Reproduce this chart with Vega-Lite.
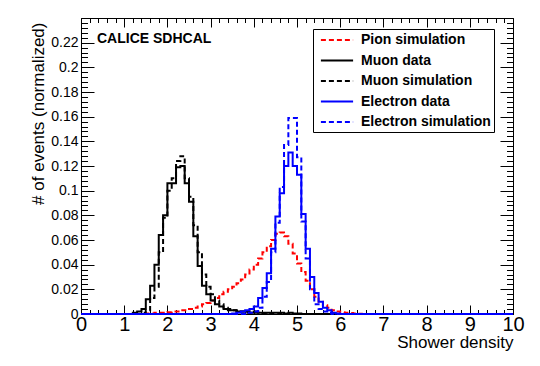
{
  "$schema": "https://vega.github.io/schema/vega-lite/v6.json",
  "width": 432,
  "height": 296,
  "autosize": "none",
  "padding": {"left": 81, "top": 18, "right": 27, "bottom": 52},
  "background": "white",
  "config": {
    "view": {"stroke": "black", "strokeWidth": 1},
    "font": "Liberation Sans",
    "axis": {"domain": false, "grid": false, "tickColor": "black", "tickWidth": 1, "labelColor": "black", "titleColor": "black", "labelFont": "Liberation Sans", "titleFont": "Liberation Sans", "titleFontWeight": "normal", "labelFlush": false},
    "legend": {"strokeColor": "#000", "fillColor": "#fff", "padding": 3, "strokeWidth": 1}
  },
  "datasets": {
    "h": [
      {"s": "Pion simulation", "x": 0, "y": 0},
      {"s": "Pion simulation", "x": 1.5, "y": 0.0005},
      {"s": "Pion simulation", "x": 1.6, "y": 0.0005},
      {"s": "Pion simulation", "x": 1.7, "y": 0.001},
      {"s": "Pion simulation", "x": 1.8, "y": 0.001},
      {"s": "Pion simulation", "x": 1.9, "y": 0.001},
      {"s": "Pion simulation", "x": 2.0, "y": 0.0015},
      {"s": "Pion simulation", "x": 2.1, "y": 0.002},
      {"s": "Pion simulation", "x": 2.2, "y": 0.002},
      {"s": "Pion simulation", "x": 2.3, "y": 0.003},
      {"s": "Pion simulation", "x": 2.4, "y": 0.003},
      {"s": "Pion simulation", "x": 2.5, "y": 0.004},
      {"s": "Pion simulation", "x": 2.6, "y": 0.005},
      {"s": "Pion simulation", "x": 2.7, "y": 0.006},
      {"s": "Pion simulation", "x": 2.8, "y": 0.008},
      {"s": "Pion simulation", "x": 2.9, "y": 0.009},
      {"s": "Pion simulation", "x": 3.0, "y": 0.011},
      {"s": "Pion simulation", "x": 3.1, "y": 0.013},
      {"s": "Pion simulation", "x": 3.2, "y": 0.016},
      {"s": "Pion simulation", "x": 3.3, "y": 0.018},
      {"s": "Pion simulation", "x": 3.4, "y": 0.02},
      {"s": "Pion simulation", "x": 3.5, "y": 0.022},
      {"s": "Pion simulation", "x": 3.6, "y": 0.025},
      {"s": "Pion simulation", "x": 3.7, "y": 0.028},
      {"s": "Pion simulation", "x": 3.8, "y": 0.032},
      {"s": "Pion simulation", "x": 3.9, "y": 0.036},
      {"s": "Pion simulation", "x": 4.0, "y": 0.04},
      {"s": "Pion simulation", "x": 4.1, "y": 0.045},
      {"s": "Pion simulation", "x": 4.2, "y": 0.05},
      {"s": "Pion simulation", "x": 4.3, "y": 0.055},
      {"s": "Pion simulation", "x": 4.4, "y": 0.06},
      {"s": "Pion simulation", "x": 4.5, "y": 0.065},
      {"s": "Pion simulation", "x": 4.6, "y": 0.066},
      {"s": "Pion simulation", "x": 4.7, "y": 0.063},
      {"s": "Pion simulation", "x": 4.8, "y": 0.057},
      {"s": "Pion simulation", "x": 4.9, "y": 0.049},
      {"s": "Pion simulation", "x": 5.0, "y": 0.041},
      {"s": "Pion simulation", "x": 5.1, "y": 0.034},
      {"s": "Pion simulation", "x": 5.2, "y": 0.027},
      {"s": "Pion simulation", "x": 5.3, "y": 0.02},
      {"s": "Pion simulation", "x": 5.4, "y": 0.014},
      {"s": "Pion simulation", "x": 5.5, "y": 0.01},
      {"s": "Pion simulation", "x": 5.6, "y": 0.007},
      {"s": "Pion simulation", "x": 5.7, "y": 0.005},
      {"s": "Pion simulation", "x": 5.8, "y": 0.003},
      {"s": "Pion simulation", "x": 5.9, "y": 0.002},
      {"s": "Pion simulation", "x": 6.0, "y": 0.0015},
      {"s": "Pion simulation", "x": 6.1, "y": 0.001},
      {"s": "Pion simulation", "x": 6.2, "y": 0.0008},
      {"s": "Pion simulation", "x": 6.3, "y": 0.0005},
      {"s": "Pion simulation", "x": 6.4, "y": 0.0003},
      {"s": "Pion simulation", "x": 6.5, "y": 0},
      {"s": "Pion simulation", "x": 10, "y": 0},

      {"s": "Muon simulation", "x": 0, "y": 0},
      {"s": "Muon simulation", "x": 1.4, "y": 0.001},
      {"s": "Muon simulation", "x": 1.5, "y": 0.003},
      {"s": "Muon simulation", "x": 1.6, "y": 0.013},
      {"s": "Muon simulation", "x": 1.7, "y": 0.022},
      {"s": "Muon simulation", "x": 1.8, "y": 0.05},
      {"s": "Muon simulation", "x": 1.9, "y": 0.078},
      {"s": "Muon simulation", "x": 2.0, "y": 0.1},
      {"s": "Muon simulation", "x": 2.1, "y": 0.11},
      {"s": "Muon simulation", "x": 2.2, "y": 0.124},
      {"s": "Muon simulation", "x": 2.3, "y": 0.128},
      {"s": "Muon simulation", "x": 2.4, "y": 0.11},
      {"s": "Muon simulation", "x": 2.5, "y": 0.095},
      {"s": "Muon simulation", "x": 2.6, "y": 0.072},
      {"s": "Muon simulation", "x": 2.7, "y": 0.05},
      {"s": "Muon simulation", "x": 2.8, "y": 0.032},
      {"s": "Muon simulation", "x": 2.9, "y": 0.022},
      {"s": "Muon simulation", "x": 3.0, "y": 0.016},
      {"s": "Muon simulation", "x": 3.1, "y": 0.011},
      {"s": "Muon simulation", "x": 3.2, "y": 0.008},
      {"s": "Muon simulation", "x": 3.3, "y": 0.005},
      {"s": "Muon simulation", "x": 3.4, "y": 0.004},
      {"s": "Muon simulation", "x": 3.5, "y": 0.003},
      {"s": "Muon simulation", "x": 3.6, "y": 0.002},
      {"s": "Muon simulation", "x": 3.7, "y": 0.002},
      {"s": "Muon simulation", "x": 3.8, "y": 0.001},
      {"s": "Muon simulation", "x": 3.9, "y": 0.001},
      {"s": "Muon simulation", "x": 4.0, "y": 0.001},
      {"s": "Muon simulation", "x": 4.1, "y": 0.001},
      {"s": "Muon simulation", "x": 4.2, "y": 0.0005},
      {"s": "Muon simulation", "x": 4.3, "y": 0},
      {"s": "Muon simulation", "x": 10, "y": 0},

      {"s": "Muon data", "x": 0, "y": 0},
      {"s": "Muon data", "x": 1.2, "y": 0.001},
      {"s": "Muon data", "x": 1.3, "y": 0.002},
      {"s": "Muon data", "x": 1.4, "y": 0.004},
      {"s": "Muon data", "x": 1.5, "y": 0.012},
      {"s": "Muon data", "x": 1.6, "y": 0.023},
      {"s": "Muon data", "x": 1.7, "y": 0.04},
      {"s": "Muon data", "x": 1.8, "y": 0.064},
      {"s": "Muon data", "x": 1.9, "y": 0.08},
      {"s": "Muon data", "x": 2.0, "y": 0.106},
      {"s": "Muon data", "x": 2.1, "y": 0.106},
      {"s": "Muon data", "x": 2.2, "y": 0.119},
      {"s": "Muon data", "x": 2.3, "y": 0.12},
      {"s": "Muon data", "x": 2.4, "y": 0.106},
      {"s": "Muon data", "x": 2.5, "y": 0.091},
      {"s": "Muon data", "x": 2.6, "y": 0.063},
      {"s": "Muon data", "x": 2.7, "y": 0.039},
      {"s": "Muon data", "x": 2.8, "y": 0.023},
      {"s": "Muon data", "x": 2.9, "y": 0.016},
      {"s": "Muon data", "x": 3.0, "y": 0.011},
      {"s": "Muon data", "x": 3.1, "y": 0.008},
      {"s": "Muon data", "x": 3.2, "y": 0.006},
      {"s": "Muon data", "x": 3.3, "y": 0.004},
      {"s": "Muon data", "x": 3.4, "y": 0.003},
      {"s": "Muon data", "x": 3.5, "y": 0.003},
      {"s": "Muon data", "x": 3.6, "y": 0.002},
      {"s": "Muon data", "x": 3.7, "y": 0.002},
      {"s": "Muon data", "x": 3.8, "y": 0.002},
      {"s": "Muon data", "x": 3.9, "y": 0.001},
      {"s": "Muon data", "x": 4.0, "y": 0.002},
      {"s": "Muon data", "x": 4.1, "y": 0.001},
      {"s": "Muon data", "x": 4.2, "y": 0.001},
      {"s": "Muon data", "x": 4.3, "y": 0.001},
      {"s": "Muon data", "x": 4.4, "y": 0.001},
      {"s": "Muon data", "x": 4.5, "y": 0.001},
      {"s": "Muon data", "x": 4.6, "y": 0.001},
      {"s": "Muon data", "x": 4.7, "y": 0.0005},
      {"s": "Muon data", "x": 4.8, "y": 0.001},
      {"s": "Muon data", "x": 4.9, "y": 0.0005},
      {"s": "Muon data", "x": 5.0, "y": 0.0005},
      {"s": "Muon data", "x": 5.1, "y": 0},
      {"s": "Muon data", "x": 10, "y": 0},

      {"s": "Electron simulation", "x": 0, "y": 0},
      {"s": "Electron simulation", "x": 3.8, "y": 0.001},
      {"s": "Electron simulation", "x": 3.9, "y": 0.001},
      {"s": "Electron simulation", "x": 4.0, "y": 0.002},
      {"s": "Electron simulation", "x": 4.1, "y": 0.005},
      {"s": "Electron simulation", "x": 4.2, "y": 0.014},
      {"s": "Electron simulation", "x": 4.3, "y": 0.026},
      {"s": "Electron simulation", "x": 4.4, "y": 0.05},
      {"s": "Electron simulation", "x": 4.5, "y": 0.074},
      {"s": "Electron simulation", "x": 4.6, "y": 0.103},
      {"s": "Electron simulation", "x": 4.7, "y": 0.137},
      {"s": "Electron simulation", "x": 4.8, "y": 0.159},
      {"s": "Electron simulation", "x": 4.9, "y": 0.159},
      {"s": "Electron simulation", "x": 5.0, "y": 0.127},
      {"s": "Electron simulation", "x": 5.1, "y": 0.075},
      {"s": "Electron simulation", "x": 5.2, "y": 0.045},
      {"s": "Electron simulation", "x": 5.3, "y": 0.02},
      {"s": "Electron simulation", "x": 5.4, "y": 0.008},
      {"s": "Electron simulation", "x": 5.5, "y": 0.004},
      {"s": "Electron simulation", "x": 5.6, "y": 0.002},
      {"s": "Electron simulation", "x": 5.7, "y": 0.001},
      {"s": "Electron simulation", "x": 5.8, "y": 0},
      {"s": "Electron simulation", "x": 10, "y": 0},

      {"s": "Electron data", "x": 0, "y": 0},
      {"s": "Electron data", "x": 3.5, "y": 0.0005},
      {"s": "Electron data", "x": 3.6, "y": 0.001},
      {"s": "Electron data", "x": 3.7, "y": 0.002},
      {"s": "Electron data", "x": 3.8, "y": 0.003},
      {"s": "Electron data", "x": 3.9, "y": 0.004},
      {"s": "Electron data", "x": 4.0, "y": 0.006},
      {"s": "Electron data", "x": 4.1, "y": 0.013},
      {"s": "Electron data", "x": 4.2, "y": 0.021},
      {"s": "Electron data", "x": 4.3, "y": 0.033},
      {"s": "Electron data", "x": 4.4, "y": 0.053},
      {"s": "Electron data", "x": 4.5, "y": 0.079},
      {"s": "Electron data", "x": 4.6, "y": 0.098},
      {"s": "Electron data", "x": 4.7, "y": 0.12},
      {"s": "Electron data", "x": 4.8, "y": 0.131},
      {"s": "Electron data", "x": 4.9, "y": 0.12},
      {"s": "Electron data", "x": 5.0, "y": 0.113},
      {"s": "Electron data", "x": 5.1, "y": 0.081},
      {"s": "Electron data", "x": 5.2, "y": 0.053},
      {"s": "Electron data", "x": 5.3, "y": 0.03},
      {"s": "Electron data", "x": 5.4, "y": 0.017},
      {"s": "Electron data", "x": 5.5, "y": 0.01},
      {"s": "Electron data", "x": 5.6, "y": 0.005},
      {"s": "Electron data", "x": 5.7, "y": 0.003},
      {"s": "Electron data", "x": 5.8, "y": 0.001},
      {"s": "Electron data", "x": 5.9, "y": 0.0005},
      {"s": "Electron data", "x": 6.0, "y": 0},
      {"s": "Electron data", "x": 10, "y": 0}
    ],
    "label": [{"label": "CALICE SDHCAL", "x": 0.37, "y": 0.22}]
  },
  "resolve": {"axis": {"x": "independent", "y": "independent"}},
  "layer": [
    {
      "data": {"name": "h"},
      "transform": [{"filter": "datum.s === 'Pion simulation'"}],
      "mark": {"type": "line", "interpolate": "step-after", "strokeWidth": 2},
      "encoding": {
        "x": {"field": "x", "type": "quantitative", "scale": {"domain": [0, 10], "nice": false, "zero": false},
          "axis": {"orient": "bottom", "values": [0,1,2,3,4,5,6,7,8,9,10], "tickSize": -9, "labelPadding": 9, "labelFontSize": 20, "format": "d",
            "title": "Shower density", "titleFontSize": 17, "titleAlign": "right", "titleAnchor": "end", "titleBaseline": "alphabetic", "titleX": 432, "titleY": 33}},
        "y": {"field": "y", "type": "quantitative", "scale": {"domain": [0, 0.24], "nice": false},
          "axis": {"orient": "left", "values": [0,0.02,0.04,0.06,0.08,0.1,0.12,0.14,0.16,0.18,0.2,0.22], "tickSize": -13, "labelPadding": 16, "labelFontSize": 14, "format": "~g",
            "title": "# of events (normalized)", "titleFontSize": 17, "titleAngle": 270, "titleAlign": "right", "titleBaseline": "alphabetic", "titleX": -38, "titleY": 4}},
        "color": {"field": "s", "type": "nominal",
          "scale": {"domain": ["Pion simulation", "Muon data", "Muon simulation", "Electron data", "Electron simulation"], "range": ["#ff0000", "#000000", "#000000", "#0000ff", "#0000ff"]},
          "legend": {"title": null, "orient": "none", "legendX": 232, "legendY": 11, "padding": 3, "strokeColor": "#000", "fillColor": "#fff", "symbolType": "M-2.3,0H2.3", "symbolSize": 196, "symbolStrokeWidth": 2, "symbolOffset": 13, "labelOffset": 16, "labelFont": "Liberation Sans", "labelFontWeight": "bold", "labelFontSize": 14, "labelColor": "#000", "rowPadding": 5.5, "labelLimit": 300}},
        "strokeDash": {"field": "s", "type": "nominal",
          "scale": {"domain": ["Pion simulation", "Muon data", "Muon simulation", "Electron data", "Electron simulation"], "range": [[5,3],[1,0],[5,3],[1,0],[5,3]]},
          "legend": {"title": null, "orient": "none", "legendX": 232, "legendY": 11, "padding": 3, "strokeColor": "#000", "fillColor": "#fff", "symbolType": "M-2.3,0H2.3", "symbolSize": 196, "symbolStrokeWidth": 2, "symbolOffset": 13, "labelOffset": 16, "labelFont": "Liberation Sans", "labelFontWeight": "bold", "labelFontSize": 14, "labelColor": "#000", "rowPadding": 5.5, "labelLimit": 300}}
      }
    },
    {
      "data": {"name": "h"},
      "transform": [{"filter": "datum.s === 'Muon simulation'"}],
      "mark": {"type": "line", "interpolate": "step-after", "strokeWidth": 2},
      "encoding": {
        "x": {"field": "x", "type": "quantitative",
          "axis": {"orient": "bottom", "values": [0,0.2,0.4,0.6,0.8,1,1.2,1.4,1.6,1.8,2,2.2,2.4,2.6,2.8,3,3.2,3.4,3.6,3.8,4,4.2,4.4,4.6,4.8,5,5.2,5.4,5.6,5.8,6,6.2,6.4,6.6,6.8,7,7.2,7.4,7.6,7.8,8,8.2,8.4,8.6,8.8,9,9.2,9.4,9.6,9.8,10], "tickSize": -4.5, "labels": false, "title": null}},
        "y": {"field": "y", "type": "quantitative",
          "axis": {"orient": "left", "values": [0,0.004,0.008,0.012,0.016,0.02,0.024,0.028,0.032,0.036,0.04,0.044,0.048,0.052,0.056,0.06,0.064,0.068,0.072,0.076,0.08,0.084,0.088,0.092,0.096,0.1,0.104,0.108,0.112,0.116,0.12,0.124,0.128,0.132,0.136,0.14,0.144,0.148,0.152,0.156,0.16,0.164,0.168,0.172,0.176,0.18,0.184,0.188,0.192,0.196,0.2,0.204,0.208,0.212,0.216,0.22,0.224,0.228,0.232,0.236], "tickSize": -6.5, "labels": false, "title": null}},
        "color": {"field": "s", "type": "nominal"},
        "strokeDash": {"field": "s", "type": "nominal"}
      }
    },
    {
      "data": {"name": "h"},
      "transform": [{"filter": "datum.s === 'Muon data'"}],
      "mark": {"type": "line", "interpolate": "step-after", "strokeWidth": 2},
      "encoding": {
        "x": {"field": "x", "type": "quantitative",
          "axis": {"orient": "top", "values": [0,1,2,3,4,5,6,7,8,9,10], "tickSize": -9, "labels": false, "title": null}},
        "y": {"field": "y", "type": "quantitative",
          "axis": {"orient": "right", "values": [0,0.02,0.04,0.06,0.08,0.1,0.12,0.14,0.16,0.18,0.2,0.22], "tickSize": -13, "labels": false, "title": null}},
        "color": {"field": "s", "type": "nominal"},
        "strokeDash": {"field": "s", "type": "nominal"}
      }
    },
    {
      "data": {"name": "h"},
      "transform": [{"filter": "datum.s === 'Electron simulation'"}],
      "mark": {"type": "line", "interpolate": "step-after", "strokeWidth": 2},
      "encoding": {
        "x": {"field": "x", "type": "quantitative",
          "axis": {"orient": "top", "values": [0,0.2,0.4,0.6,0.8,1,1.2,1.4,1.6,1.8,2,2.2,2.4,2.6,2.8,3,3.2,3.4,3.6,3.8,4,4.2,4.4,4.6,4.8,5,5.2,5.4,5.6,5.8,6,6.2,6.4,6.6,6.8,7,7.2,7.4,7.6,7.8,8,8.2,8.4,8.6,8.8,9,9.2,9.4,9.6,9.8,10], "tickSize": -4.5, "labels": false, "title": null}},
        "y": {"field": "y", "type": "quantitative",
          "axis": {"orient": "right", "values": [0,0.004,0.008,0.012,0.016,0.02,0.024,0.028,0.032,0.036,0.04,0.044,0.048,0.052,0.056,0.06,0.064,0.068,0.072,0.076,0.08,0.084,0.088,0.092,0.096,0.1,0.104,0.108,0.112,0.116,0.12,0.124,0.128,0.132,0.136,0.14,0.144,0.148,0.152,0.156,0.16,0.164,0.168,0.172,0.176,0.18,0.184,0.188,0.192,0.196,0.2,0.204,0.208,0.212,0.216,0.22,0.224,0.228,0.232,0.236], "tickSize": -6.5, "labels": false, "title": null}},
        "color": {"field": "s", "type": "nominal"},
        "strokeDash": {"field": "s", "type": "nominal"}
      }
    },
    {
      "data": {"name": "h"},
      "transform": [{"filter": "datum.s === 'Electron data'"}],
      "mark": {"type": "line", "interpolate": "step-after", "strokeWidth": 2},
      "encoding": {
        "x": {"field": "x", "type": "quantitative", "axis": null},
        "y": {"field": "y", "type": "quantitative", "axis": null},
        "color": {"field": "s", "type": "nominal"},
        "strokeDash": {"field": "s", "type": "nominal"}
      }
    },
    {
      "data": {"name": "label"},
      "mark": {"type": "text", "align": "left", "baseline": "alphabetic", "font": "Liberation Sans", "fontWeight": "bold", "fontSize": 14, "color": "#000"},
      "encoding": {
        "x": {"field": "x", "type": "quantitative", "axis": null},
        "y": {"field": "y", "type": "quantitative", "axis": null},
        "text": {"field": "label"}
      }
    }
  ]
}
